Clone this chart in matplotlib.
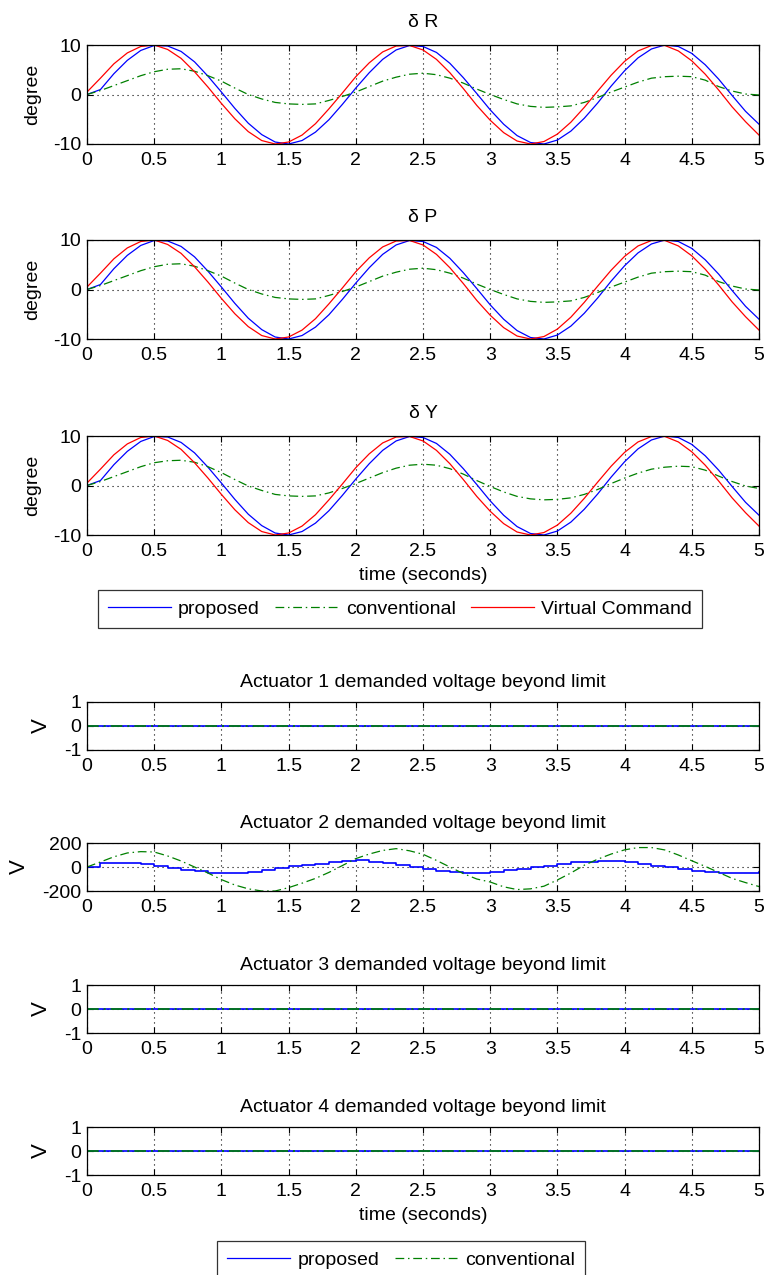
import numpy as np
import matplotlib
matplotlib.use("Agg")
import matplotlib.pyplot as plt
from matplotlib.lines import Line2D

plt.rcParams["font.family"] = ["Liberation Sans", "DejaVu Sans"]
FS = 14
plt.rcParams["font.size"] = FS

# =========================
# DATA (sampled every 0.1 s)
# =========================

t = np.linspace(0, 5, 51)

# virtual command (same for the three angles)
cmd = [0.5, 3.3, 6.2, 8.4, 9.7, 10.0, 9.1, 7.3, 4.6, 1.5,
       -1.8, -4.9, -7.5, -9.3, -10.0, -9.6, -8.2, -5.9, -2.9, 0.3,
       3.6, 6.4, 8.6, 9.8, 9.9, 9.0, 7.1, 4.4, 1.2, -2.2,
       -5.2, -7.7, -9.4, -10.0, -9.5, -8.0, -5.6, -2.6, 0.7, 3.9,
       6.7, 8.8, 9.9, 9.9, 8.8, 6.8, 4.1, 0.9, -2.5, -5.5,
       -8.2]

# proposed
prop = [0.0, 1.0, 4.2, 6.9, 8.9, 9.9, 9.8, 8.7, 6.6, 3.7,
        0.5, -2.8, -5.8, -8.1, -9.6, -10.0, -9.3, -7.6, -5.1, -2.0,
        1.3, 4.4, 7.1, 9.0, 9.9, 9.7, 8.5, 6.3, 3.4, 0.2,
        -3.1, -6.0, -8.3, -9.7, -10.0, -9.2, -7.4, -4.8, -1.7, 1.7,
        4.8, 7.4, 9.2, 10.0, 9.7, 8.3, 6.0, 3.1, -0.2, -3.4,
        -6.0]

# conventional, one series per angle
conv_R = [0.0, 0.8, 1.8, 2.8, 3.8, 4.6, 5.1, 5.2, 4.7, 3.8,
          2.7, 1.3, 0.0, -0.9, -1.6, -1.9, -2.0, -1.9, -1.2, -0.4,
          0.5, 1.6, 2.7, 3.5, 4.1, 4.3, 4.0, 3.3, 2.3, 1.1,
          0.0, -1.0, -1.9, -2.4, -2.6, -2.5, -2.3, -1.6, -0.6, 0.5,
          1.5, 2.5, 3.3, 3.6, 3.7, 3.6, 2.9, 1.6, 0.7, 0.1,
          -0.1]
conv_P = [0.0, 0.8, 1.8, 2.8, 3.8, 4.6, 5.1, 5.2, 4.7, 3.8,
          2.7, 1.3, 0.0, -0.9, -1.6, -1.9, -2.0, -1.9, -1.2, -0.4,
          0.5, 1.6, 2.7, 3.5, 4.1, 4.3, 4.0, 3.3, 2.3, 1.1,
          0.0, -1.0, -1.9, -2.4, -2.6, -2.5, -2.3, -1.6, -0.6, 0.5,
          1.5, 2.5, 3.3, 3.6, 3.7, 3.6, 2.9, 1.6, 0.7, 0.1,
          -0.1]
conv_Y = [0.0, 0.8, 1.8, 2.8, 3.8, 4.6, 5.0, 5.1, 4.7, 3.8,
          2.6, 1.2, -0.1, -1.0, -1.8, -2.1, -2.2, -2.1, -1.5, -0.6,
          0.4, 1.5, 2.6, 3.5, 4.1, 4.3, 4.1, 3.4, 2.3, 1.0,
          -0.2, -1.3, -2.2, -2.7, -2.9, -2.8, -2.5, -1.8, -0.8, 0.4,
          1.5, 2.5, 3.3, 3.7, 3.9, 3.8, 3.1, 1.9, 0.8, -0.1,
          -0.6]

# actuator 2 voltage beyond limit
act2_prop = [0, 36, 36, 36, 22, 6, -8, -22, -36, -47,
             -50, -50, -40, -22, -8, 6, 17, 28, 42, 50,
             56, 42, 30, 15, 3, -15, -30, -42, -50, -48,
             -42, -28, -14, 0, 12, 25, 38, 45, 50, 50,
             40, 25, 10, 0, -15, -30, -40, -50, -50, -48,
             -45]
act2_conv = [0, 42, 85, 117, 128, 125, 92, 50, 0, -50,
             -105, -150, -182, -200, -200, -172, -135, -95, -45, 12,
             70, 108, 138, 153, 135, 106, 55, 0, -55, -100,
             -125, -165, -188, -182, -160, -108, -50, 15, 65, 108,
             143, 162, 162, 142, 100, 52, 5, -45, -95, -130,
             -163]

# actuators 1, 3, 4 never exceed the limit
act_zero = [0.0] * 51

angle_titles = ["\u03b4 R", "\u03b4 P", "\u03b4 Y"]
act_titles = ["Actuator %d demanded voltage beyond limit" % i for i in range(1, 5)]
xticks = [0, 0.5, 1, 1.5, 2, 2.5, 3, 3.5, 4, 4.5, 5]
xticklabels = ["0", "0.5", "1", "1.5", "2", "2.5", "3", "3.5", "4", "4.5", "5"]

# =========================
# STYLE
# =========================

W, H = 766, 1275
BLUE = (0, 0, 1)
GREEN = (0, 0.5, 0)
RED = (1, 0, 0)
DASHDOT = (0, (7, 3, 1.2, 3))
LW = 0.9

fig = plt.figure(figsize=(W / 100, H / 100), dpi=100)


def make_axes(top_px, height_px):
    left, right = 87, 759
    return fig.add_axes([left / W, 1 - (top_px + height_px) / H,
                         (right - left) / W, height_px / H])


def style(ax, ylim, yticks):
    ax.set_xlim(0, 5)
    ax.set_ylim(*ylim)
    ax.set_xticks(xticks)
    ax.set_xticklabels(xticklabels)
    ax.set_yticks(yticks)
    ax.set_yticklabels([str(v) for v in yticks])
    ax.grid(True, color="black", linestyle=(0, (1, 3.5)), linewidth=0.8)
    ax.tick_params(direction="in", top=True, right=True, length=4,
                   width=0.8, labelsize=FS)
    ax.tick_params(axis="x", pad=6)
    ax.tick_params(axis="y", pad=4)
    for s in ax.spines.values():
        s.set_linewidth(0.9)
    ax.set_axisbelow(True)


# =========================
# ANGLES
# =========================

angle_tops = [45, 240, 436]
conv_list = [conv_R, conv_P, conv_Y]
for i in range(3):
    ax = make_axes(angle_tops[i], 99)
    ax.plot(t, prop, color=BLUE, lw=LW)
    ax.plot(t, conv_list[i], color=GREEN, lw=LW, linestyle=DASHDOT)
    ax.plot(t, cmd, color=RED, lw=LW)
    style(ax, (-10, 10), [-10, 0, 10])
    ax.set_title(angle_titles[i], fontsize=FS, pad=13)
    ax.set_ylabel("degree", fontsize=FS, labelpad=9)
    if i == 2:
        ax.set_xlabel("time (seconds)", fontsize=FS, labelpad=5)

handles1 = [Line2D([], [], color=BLUE, lw=LW),
            Line2D([], [], color=GREEN, lw=LW, linestyle=DASHDOT),
            Line2D([], [], color=RED, lw=LW)]
leg1 = fig.legend(handles1, ["proposed", "conventional", "Virtual Command"],
                  loc="center", bbox_to_anchor=(400 / W, 1 - 609 / H),
                  ncol=3, frameon=True, fancybox=False, handlelength=3.25,
                  handletextpad=0.36, columnspacing=0.8, borderpad=0.5,
                  borderaxespad=0, fontsize=FS)
leg1.get_frame().set_edgecolor("black")
leg1.get_frame().set_linewidth(0.9)

# =========================
# ACTUATORS
# =========================

act_tops = [702, 843, 985, 1127]
for i in range(4):
    ax = make_axes(act_tops[i], 48)
    if i == 1:
        ax.plot(t, act2_prop, color=BLUE, lw=1.2, drawstyle="steps-post")
        ax.plot(t, act2_conv, color=GREEN, lw=LW, linestyle=DASHDOT)
        style(ax, (-200, 200), [-200, 0, 200])
    else:
        ax.plot(t, act_zero, color=BLUE, lw=1.2)
        ax.plot(t, act_zero, color=GREEN, lw=1.2, linestyle=DASHDOT)
        style(ax, (-1, 1), [-1, 0, 1])
    ax.set_title(act_titles[i], fontsize=FS, pad=11)
    ax.set_ylabel("V", fontsize=16, labelpad=9)
    if i == 3:
        ax.set_xlabel("time (seconds)", fontsize=FS, labelpad=5)

handles2 = [Line2D([], [], color=BLUE, lw=LW),
            Line2D([], [], color=GREEN, lw=LW, linestyle=DASHDOT)]
leg2 = fig.legend(handles2, ["proposed", "conventional"],
                  loc="center", bbox_to_anchor=(401 / W, 1 - 1260 / H),
                  ncol=2, frameon=True, fancybox=False, handlelength=3.25,
                  handletextpad=0.36, columnspacing=0.8, borderpad=0.5,
                  borderaxespad=0, fontsize=FS)
leg2.get_frame().set_edgecolor("black")
leg2.get_frame().set_linewidth(0.9)

fig.savefig("out.png", dpi=100, facecolor="white")
